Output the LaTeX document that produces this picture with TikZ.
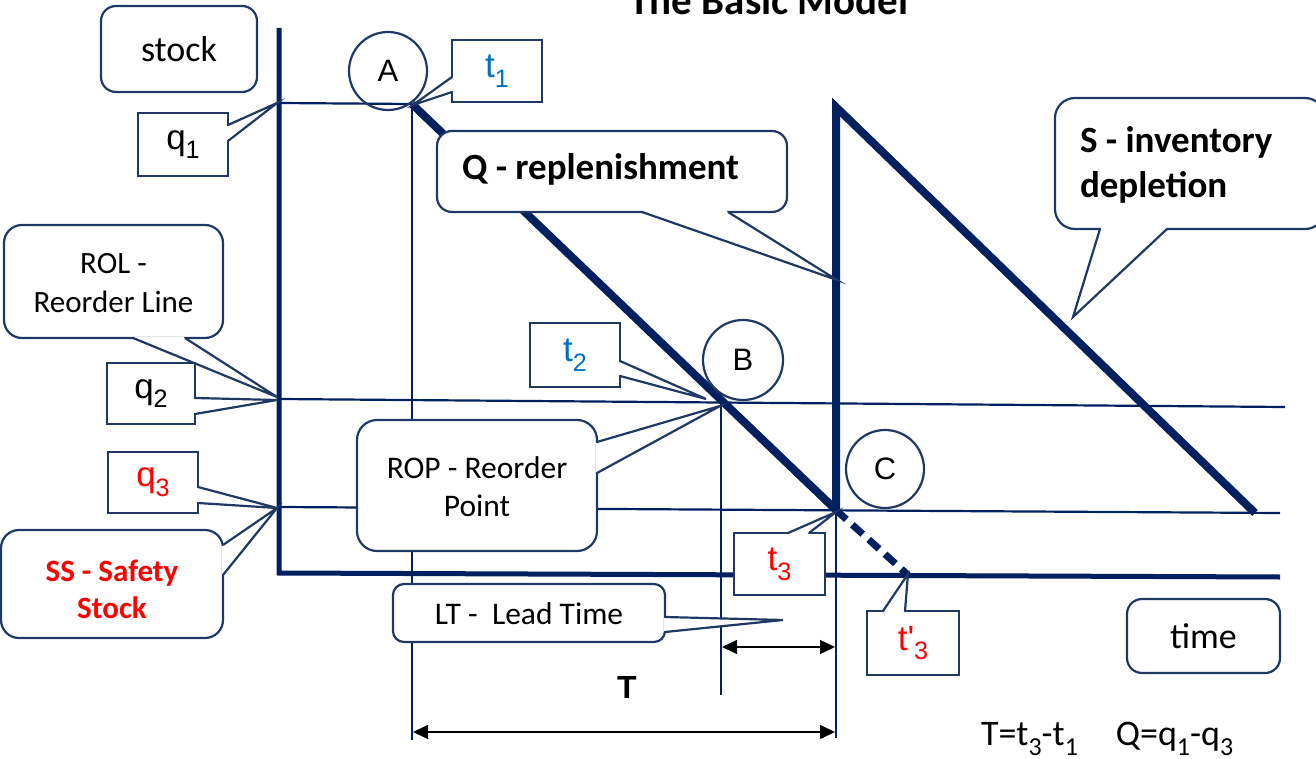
\documentclass[tikz,border=0pt]{standalone}
\usepackage{fontspec}
\usepackage{graphicx}
\setmainfont{Carlito}
\newfontfamily\arialfont{Liberation Sans}
\usetikzlibrary{arrows.meta,calc}

\definecolor{navy}{RGB}{0,32,96}
\definecolor{boxline}{RGB}{31,56,100}
\definecolor{tblue}{RGB}{0,112,192}
\definecolor{tred}{RGB}{255,0,0}

% font size in px-sized points
\newcommand\px[2]{\fontsize{#1}{#2}\selectfont}
% lowered, reduced subscript
\newcommand\lsub[1]{\raisebox{-0.28em}{\scalebox{0.72}{#1}}}
% white wedge joining a callout box to its tip
\newcommand\calltail[3]{%
  \fill[white] #1 -- #2 -- #3 -- cycle;
  \draw[white, line width=3pt, shorten <=1.3pt, shorten >=1.3pt] #1 -- #3;
  \draw[tail] #1 -- #2 -- #3;}

\begin{document}
\begin{tikzpicture}[x=1pt,y=-1pt,
  every node/.style={inner sep=0pt, outer sep=0pt},
  thin line/.style={draw=navy, line width=2.2pt},
  axis line/.style={draw=navy, line width=5pt, line join=miter},
  saw line/.style={draw=navy, line width=8pt, line join=miter},
  sqbox/.style={draw=boxline, line width=2.2pt, fill=white},
  rbox/.style={sqbox, rounded corners=15pt},
  tail/.style={draw=boxline, line width=2.2pt, line join=miter},
  ring/.style={circle, draw=boxline, line width=2.2pt, minimum size=#1,
               font=\arialfont\px{31}{36}},
  lbl/.style={font=\arialfont\px{35}{40}},
  dim/.style={draw=black, line width=1.4pt, {Triangle[length=15pt,width=14pt]}-{Triangle[length=15pt,width=14pt]}}
]
\clip (0,0) rectangle (1316,759);
\useasboundingbox (0,0) rectangle (1316,759);

% title
\node[anchor=base, font=\bfseries\px{41}{48}] (title) at (769,15) {The Basic Model};

% reference levels and time marks
\coordinate (q1L) at (279,103);
\coordinate (A0) at (412,104);
\coordinate (B0) at (721,401);
\coordinate (C0) at (836,510);
\coordinate (C1) at (836,107);
\coordinate (Send) at (1255,513);
\coordinate (t3p) at (908,575);
\draw[thin line] (q1L) -- (A0);
\draw[thin line] (279,399) -- (1285,407);
\draw[thin line] (279,507) -- (1280,513);
\draw[thin line] (A0) -- (412,740);
\draw[thin line] (B0) -- (721,695);
\draw[thin line] (C0) -- (836,738);

% axes
\draw[axis line] (279,28) -- (279,573) -- (1280,577);

% stock curve
\draw[saw line] (A0) -- (C0);
\draw[saw line] (C0) -- (C1) -- (Send);
\draw[draw=navy, line width=7pt, dash pattern=on 14pt off 8pt] (C0) -- (t3p);

% lead time and cycle time
\draw[dim] (722,647) -- (835,647);
\draw[dim] (413,732) -- (835,732);
\node[font=\arialfont\bfseries\px{32}{36}] (Tlbl) at (627,687) {T};

% points A, B, C
\node[ring=78pt] (A) at (388,71) {A};
\node[ring=80pt] (B) at (743,360) {B};
\node[ring=78pt] (C) at (885,469) {C};

% tips of the callouts
\coordinate (tipq1) at (277,103);
\coordinate (tipt1) at (413,105);
\coordinate (tipQ) at (837,280);
\coordinate (tipS) at (1073,317);
\coordinate (tipROL) at (277,397);
\coordinate (tipq2) at (277,400);
\coordinate (tipq3) at (277,508);
\coordinate (tipSS) at (277,508);
\coordinate (tipROP) at (720,406);
\coordinate (tipt2) at (706,399);
\coordinate (tipt3) at (836,512);
\coordinate (tipt3p) at (908,574);
\coordinate (tipLT) at (783,620);

% axis captions
\node[rbox, minimum width=156pt, minimum height=86pt, font=\px{36}{40}] (stock) at (179,49) {stock};
\node[rbox, minimum width=153pt, minimum height=74pt, font=\px{36}{40}] (time) at (1203.5,636) {time};

% level callouts
\node[sqbox, minimum width=90pt, minimum height=63pt, lbl] (q1) at (183,144.5) {q\lsub{1}};
\calltail{([yshift=-12pt]q1.north east)}{(tipq1)}{([yshift=-28pt]q1.north east)}

\node[rbox, rounded corners=18pt, minimum width=219pt, minimum height=113pt] (ROL) at (113.5,281.5) {};
\calltail{([xshift=129pt]ROL.south west)}{(tipROL)}{([xshift=181pt]ROL.south west)}
\node[align=center, font=\px{31}{39}] (ROLtxt) at (113.5,283) {ROL -\\Reorder Line};

\node[sqbox, minimum width=88pt, minimum height=61pt, lbl] (q2) at (151,393.5) {q\lsub{2}};
\calltail{([yshift=-35pt]q2.north east)}{(tipq2)}{([yshift=-51pt]q2.north east)}

\node[sqbox, minimum width=90pt, minimum height=61pt, lbl, text=tred] (q3) at (153,482.5) {q\lsub{3}};
\calltail{([yshift=-35pt]q3.north east)}{(tipq3)}{([yshift=-51pt]q3.north east)}

\node[rbox, rounded corners=18pt, minimum width=222pt, minimum height=108pt] (SS) at (112,584) {};
\calltail{([yshift=-15pt]SS.north east)}{(tipSS)}{([yshift=-45pt]SS.north east)}
\node[align=center, text=tred, font=\bfseries\px{31}{37}] (SStxt) at (112,589) {SS - Safety\\Stock};

% time callouts
\node[sqbox, minimum width=90pt, minimum height=62pt, lbl, text=tblue] (t1) at (497,71) {t\lsub{1}};
\calltail{([yshift=-37pt]t1.north west)}{(tipt1)}{([yshift=-52pt]t1.north west)}

\node[sqbox, minimum width=90pt, minimum height=64pt, lbl, text=tblue] (t2) at (575,355) {t\lsub{2}};
\calltail{([yshift=-38pt]t2.north east)}{(tipt2)}{([yshift=-53pt]t2.north east)}

\node[sqbox, minimum width=91pt, minimum height=62pt, lbl, text=tred] (t3) at (779.5,564) {t\lsub{3}};
\calltail{([xshift=54pt]t3.north west)}{(tipt3)}{([xshift=75pt]t3.north west)}

\node[sqbox, minimum width=92pt, minimum height=64pt, lbl, text=tred] (t3b) at (913,643) {t'\lsub{3}};
\calltail{([xshift=16pt]t3b.north west)}{(tipt3p)}{([xshift=38pt]t3b.north west)}

% explanatory callouts
\node[rbox, minimum width=350pt, minimum height=81pt] (Qbox) at (612,171.5) {};
\calltail{([xshift=205pt]Qbox.south west)}{(tipQ)}{([xshift=291pt]Qbox.south west)}
\node[anchor=base west, font=\bfseries\px{37}{44}] (Qtxt) at (462,180) {Q - replenishment};

\node[rbox, rounded corners=20pt, minimum width=270pt, minimum height=131pt] (Sbox) at (1190,163.5) {};
\calltail{([xshift=45pt]Sbox.south west)}{(tipS)}{([xshift=112pt]Sbox.south west)}
\node[anchor=west, align=left, font=\bfseries\px{37}{45}] (Stxt) at (1080,165) {S - inventory\\depletion};

\node[rbox, rounded corners=20pt, minimum width=240pt, minimum height=131pt] (ROP) at (477,485.5) {};
\calltail{([yshift=-22pt]ROP.north east)}{(tipROP)}{([yshift=-53pt]ROP.north east)}
\node[align=center, font=\px{31.5}{38}] (ROPtxt) at (477,487) {ROP - Reorder\\Point};

\node[rbox, rounded corners=11pt, minimum width=272pt, minimum height=58pt] (LT) at (529,613) {};
\calltail{([yshift=-33pt]LT.north east)}{(tipLT)}{([yshift=-48pt]LT.north east)}
\node[font=\px{31.5}{36}] (LTtxt) at (529,614) {LT -\ \ Lead Time};

% relations
\node[anchor=base west, font=\px{36}{40}] (rel) at (981,745) {T=t\lsub{3}-t\lsub{1}\hspace{38pt}Q=q\lsub{1}-q\lsub{3}};
\end{tikzpicture}
\end{document}
